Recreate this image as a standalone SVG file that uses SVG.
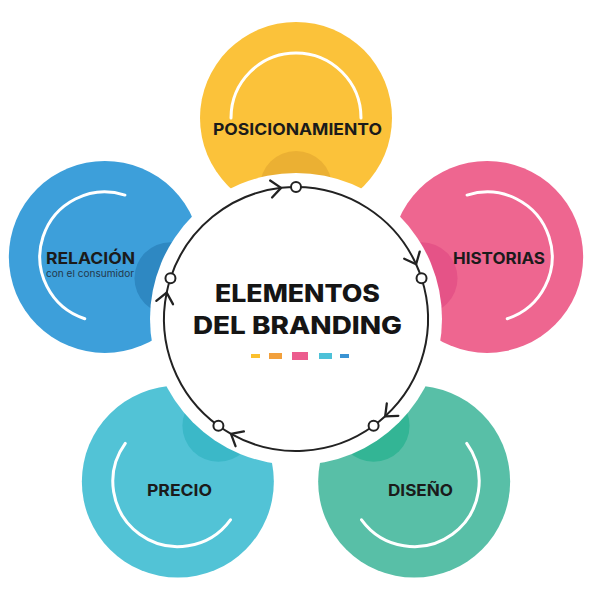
<svg xmlns="http://www.w3.org/2000/svg" width="600" height="600" viewBox="0 0 600 600">
  <style>
    .lbl { font-family: Inter, Lato, "Liberation Sans", sans-serif; font-weight: 700; font-size: 16px; fill: #1b1b1b; text-anchor: middle; }
    .sub { font-family: Inter, Lato, "Liberation Sans", sans-serif; font-weight: 400; font-size: 9.5px; fill: #23384c; text-anchor: middle; }
    .title { font-family: Inter, Lato, "Liberation Sans", sans-serif; font-weight: 800; font-size: 24px; fill: #151515; text-anchor: middle; }
    .arc { fill: none; stroke: #ffffff; stroke-width: 3; stroke-linecap: round; }
    .ring { fill: none; stroke: #222222; stroke-width: 2; }
    .dot { fill: #ffffff; stroke: #222222; stroke-width: 2; }
  </style>
  <defs>
    <marker id="chev" markerUnits="userSpaceOnUse" orient="auto" markerWidth="30" markerHeight="30" refX="15" refY="15" overflow="visible">
      <path d="M 5 6.5 L 15 15 L 5 23.5" fill="none" stroke="#222222" stroke-width="2.3" stroke-linecap="round" stroke-linejoin="round"/>
    </marker>
  </defs>
  <rect width="600" height="600" fill="#ffffff"/>

  <g id="posicionamiento">
    <circle cx="296" cy="118" r="96" fill="#FBC23A"/>
    <circle cx="296" cy="187" r="36" fill="#EBB033"/>
    <path class="arc" d="M 231 118 A 65 65 0 0 1 361 118"/>
    <text class="lbl" x="297.5" y="135" textLength="169" lengthAdjust="spacingAndGlyphs">POSICIONAMIENTO</text>
  </g>

  <g id="historias">
    <circle cx="487.16" cy="256.89" r="96" fill="#EE6690"/>
    <circle cx="421.54" cy="278.21" r="36" fill="#E55387"/>
    <path class="arc" d="M 467.07 195.07 A 65 65 0 0 1 507.25 318.71"/>
    <text class="lbl" x="499" y="263.5" textLength="92" lengthAdjust="spacingAndGlyphs">HISTORIAS</text>
  </g>

  <g id="diseno">
    <circle cx="414.15" cy="481.61" r="96" fill="#58BFA7"/>
    <circle cx="373.59" cy="425.79" r="36" fill="#33B595"/>
    <path class="arc" d="M 466.74 443.4 A 65 65 0 0 1 361.56 519.82"/>
    <text class="lbl" x="420.5" y="496" textLength="65" lengthAdjust="spacingAndGlyphs">DISEÑO</text>
  </g>

  <g id="precio">
    <circle cx="177.85" cy="481.61" r="96" fill="#52C3D6"/>
    <circle cx="218.41" cy="425.79" r="36" fill="#3BB8C8"/>
    <path class="arc" d="M 230.44 519.82 A 65 65 0 0 1 125.26 443.4"/>
    <text class="lbl" x="179.5" y="496" textLength="65" lengthAdjust="spacingAndGlyphs">PRECIO</text>
  </g>

  <g id="relacion">
    <circle cx="104.84" cy="256.89" r="96" fill="#3D9FDA"/>
    <circle cx="170.46" cy="278.21" r="36" fill="#2E88C2"/>
    <path class="arc" d="M 84.75 318.71 A 65 65 0 0 1 124.93 195.07"/>
    <text class="lbl" x="90.5" y="264" textLength="89" lengthAdjust="spacingAndGlyphs">RELACIÓN</text>
    <text class="sub" x="90" y="276.5" textLength="88" lengthAdjust="spacingAndGlyphs">con el consumidor</text>
  </g>

  <g id="elementos-del-branding">
    <circle cx="296" cy="319" r="146" fill="#ffffff"/>
    <text class="title" x="297.5" y="302" textLength="165" lengthAdjust="spacingAndGlyphs">ELEMENTOS</text>
    <text class="title" x="297.5" y="334" textLength="209" lengthAdjust="spacingAndGlyphs">DEL BRANDING</text>
    <rect x="251" y="354" width="9" height="4" fill="#FBC02D"/>
    <rect x="269" y="353" width="13" height="6" fill="#F2A03C"/>
    <rect x="292" y="352" width="16" height="8" fill="#EC5C8E"/>
    <rect x="319" y="353" width="13" height="6" fill="#4DC1D8"/>
    <rect x="340" y="354" width="9" height="4" fill="#3A93D3"/>
  </g>

  <g id="connectors">
    <path class="ring" marker-mid="url(#chev)" d="M 296 187 A 132 132 0 0 1 416.11 264.26 A 132 132 0 0 1 421.54 278.21"/>
    <path class="ring" marker-mid="url(#chev)" d="M 421.54 278.21 A 132 132 0 0 1 385.18 416.32 A 132 132 0 0 1 373.59 425.79"/>
    <path class="ring" marker-mid="url(#chev)" d="M 373.59 425.79 A 132 132 0 0 1 231 433.89 A 132 132 0 0 1 218.41 425.79"/>
    <path class="ring" marker-mid="url(#chev)" d="M 218.41 425.79 A 132 132 0 0 1 166.65 292.68 A 132 132 0 0 1 170.46 278.21"/>
    <path class="ring" marker-mid="url(#chev)" d="M 170.46 278.21 A 132 132 0 0 1 281.06 187.85 A 132 132 0 0 1 296 187"/>
    <circle class="dot" cx="296" cy="187" r="5"/>
    <circle class="dot" cx="421.54" cy="278.21" r="5"/>
    <circle class="dot" cx="373.59" cy="425.79" r="5"/>
    <circle class="dot" cx="218.41" cy="425.79" r="5"/>
    <circle class="dot" cx="170.46" cy="278.21" r="5"/>
  </g>
</svg>
